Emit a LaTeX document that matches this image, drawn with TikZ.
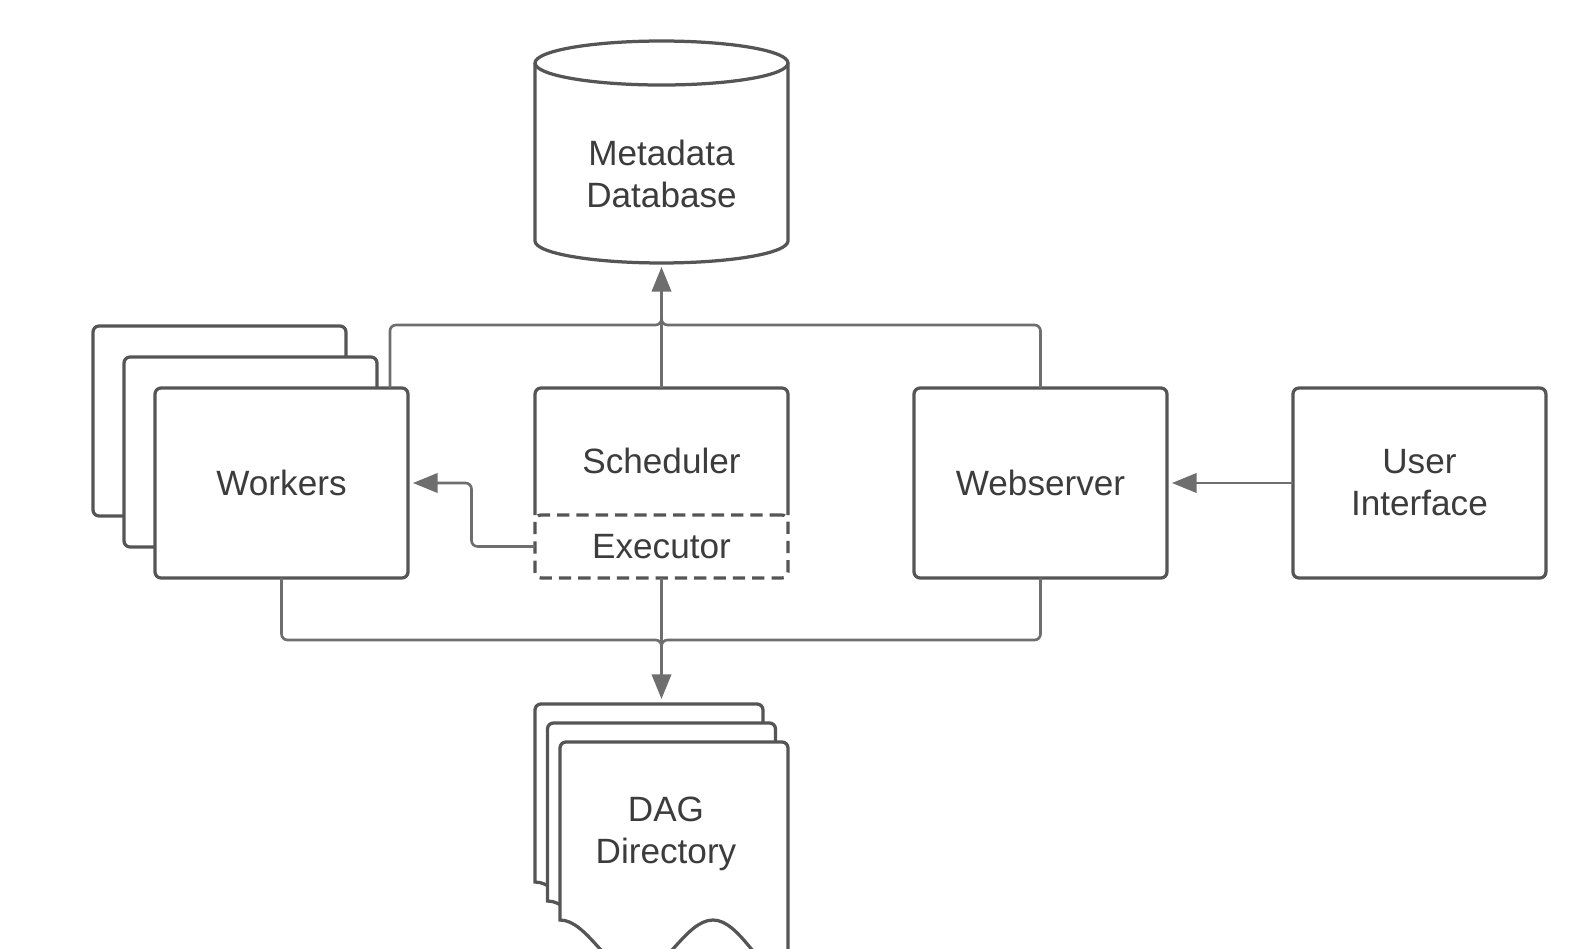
\documentclass[tikz,border=0pt]{standalone}
\usepackage{fontspec}
\setmainfont{Liberation Sans}
\usetikzlibrary{%
    arrows.meta,
    calc,
    positioning
}
\definecolor{boxgray}{HTML}{555555}
\definecolor{linkgray}{HTML}{6E6E6E}
\definecolor{textgray}{HTML}{3C3C3C}
\tikzset{
    plainbox/.style = {rectangle, inner sep=0pt, outer sep=0pt, align=center,
        minimum width=5.06cm, minimum height=3.8cm,
        text=textgray, font=\fontsize{20}{24}\selectfont},
    boxline/.style = {draw=boxgray, line width=1.85pt},
    block/.style = {plainbox, boxline, fill=white, rounded corners=0.12cm},
    link/.style = {draw=linkgray, line width=1.5pt, rounded corners=0.12cm},
    flowarrow/.style = {-{Triangle[length=14pt,width=11pt]}}
}

\begin{document}
\begin{tikzpicture}[x=0.02cm, y=-0.02cm]
    \useasboundingbox (0,0) rectangle (1569,949);
    \fill[white] (0,0) rectangle (1569,949);
    \clip (0,0) rectangle (1569,949);

    % metadata database
    \node[plainbox, minimum height=3.56cm] (db) at (661.5,174) {Metadata\\Database};
    \draw[boxline] ($(db.north west)+(0,-22)$) -- ($(db.south west)+(0,-22)$)
        arc[start angle=180, end angle=360, x radius=2.53cm, y radius=0.44cm]
        -- ($(db.north east)+(0,-22)$);
    \draw[boxline] ($(db.north)+(0,-22)$) ellipse[x radius=2.53cm, y radius=0.44cm];

    % scheduler with executor
    \node[plainbox, minimum height=2.92cm] (sched) at (661.5,461) {Scheduler};
    \node[block, dash pattern=on 7pt off 4pt, minimum height=1.26cm] (exec) at (661.5,546.5) {Executor};
    \draw[boxline, rounded corners=0.12cm] (exec.north west) -- (sched.north west)
        -- (sched.north east) -- (exec.north east);

    % workers
    \foreach \i in {2,1}
        \node[block] (wk\i) at (281.5-31*\i,483-31*\i) {};
    \node[block] (wk) at (281.5,483) {Workers};

    \node[block] (web) at (1040.5,483) {Webserver};
    \node[block, right=2.52cm of web] (ui) {User\\Interface};

    % dag directory
    \foreach \i in {2,1,0}
        \draw[boxline, fill=white, shift={(560-12.5*\i,742-19*\i)}]
            (0,178) [rounded corners=0.12cm] -- (0,0) -- (228,0) -- (228,232) [sharp corners]
            .. controls (201,232) and (180,178) .. (153,178)
            .. controls (125.5,178) and (104,232) .. (76.5,232)
            .. controls (49,232) and (27.5,178) .. (0,178) -- cycle;
    \node[plainbox, minimum width=4.56cm, minimum height=3.56cm] (dag) at (666,834) {DAG\\Directory};

    \coordinate (topjoin) at (661.5,325);
    \coordinate (botjoin) at (661.5,640);
    \coordinate (dagtop) at (661.5,699);

    \draw[link] ($(wk.north east)+(-18,0)$) |- (topjoin) -- ++(0,-30);
    \draw[link] (web.north) |- (topjoin) -- ++(0,-30);
    \draw[link, flowarrow] (sched.north) -- ($(db.south)+(0,4)$);
    \draw[link] (wk.south) |- (botjoin) -- ++(0,30);
    \draw[link] (web.south) |- (botjoin) -- ++(0,30);
    \draw[link, flowarrow] (exec.south) -- (dagtop);
    \draw[link, flowarrow] (exec.west) -| ($(exec.west)!.5!(wk.east)$) |- ($(wk.east)+(5,0)$);
    \draw[link, flowarrow] (ui) -- ($(web.east)+(5,0)$);
\end{tikzpicture}
\end{document}
